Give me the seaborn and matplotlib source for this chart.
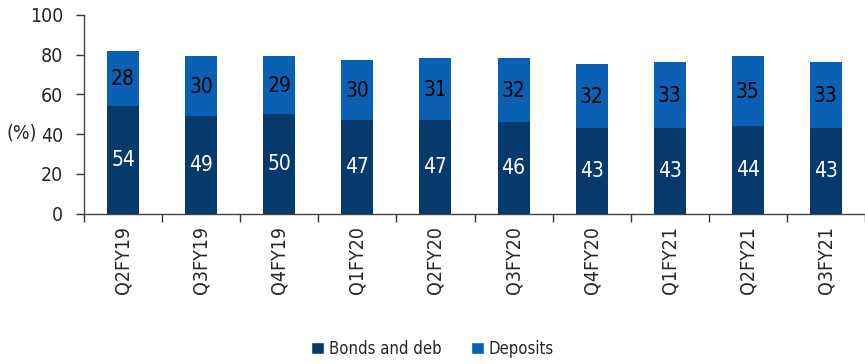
import numpy as np
import pandas as pd
import matplotlib
matplotlib.use("Agg")
import matplotlib.pyplot as plt
import seaborn as sns
from matplotlib.patches import Patch

quarters = ["Q2FY19", "Q3FY19", "Q4FY19", "Q1FY20", "Q2FY20",
            "Q3FY20", "Q4FY20", "Q1FY21", "Q2FY21", "Q3FY21"]
bonds = [54, 49, 50, 47, 47, 46, 43, 43, 44, 43]
deposits = [28, 30, 29, 30, 31, 32, 32, 33, 35, 33]
series_names = ["Bonds and deb", "Deposits"]

dark = "#063a6c"
light = "#0a60b2"

sns.set_theme(style="white")
plt.rcParams['font.family'] = ['DejaVu Sans']
plt.rcParams['font.stretch'] = 'condensed'

df = pd.DataFrame({"quarter": quarters, "bonds": bonds, "deposits": deposits})
df["total"] = df["bonds"] + df["deposits"]

fig = plt.figure(figsize=(8.65, 3.64), dpi=100)
ax = fig.add_axes([84/865, 1-213.7/364, 1-84/865, (213.7-14.7)/364])

sns.barplot(data=df, x="quarter", y="total", color=light, saturation=1,
            width=0.41, ax=ax, edgecolor="none")
sns.barplot(data=df, x="quarter", y="bonds", color=dark, saturation=1,
            width=0.41, ax=ax, edgecolor="none")

top_bars = ax.patches[:len(quarters)]
bot_bars = ax.patches[len(quarters):]
for b, v in zip(bot_bars, bonds):
    ax.text(b.get_x() + b.get_width()/2, v/2, str(v), ha="center", va="center",
            color="white", fontsize=15)
for b, v, base in zip(top_bars, deposits, bonds):
    ax.text(b.get_x() + b.get_width()/2, base + v/2 - 0.5, str(v), ha="center",
            va="center", color="black", fontsize=15)

ax.set_ylim(0, 100)
ax.set_yticks(np.arange(0, 101, 20))
ax.set_xlim(-0.5, 9.43)
ax.set_xticks(np.arange(-0.5, 9.6, 1))
ax.set_xticklabels([])
ax.set_xticks(np.arange(len(quarters)), minor=True)
ax.set_xticklabels(quarters, minor=True, rotation=90, fontsize=14)
ax.tick_params(axis="x", which="major", direction="out", length=6, width=1,
               color="#333333", bottom=True)
ax.tick_params(axis="x", which="minor", length=0, pad=9, bottom=True)
ax.tick_params(axis="y", direction="out", length=6, width=1, color="#333333",
               labelsize=14, pad=9, left=True)
ax.set_xlabel("")
ax.set_ylabel("")
for s in ["top", "right"]:
    ax.spines[s].set_visible(False)
for s in ["left", "bottom"]:
    ax.spines[s].set_color("#444444")
    ax.spines[s].set_linewidth(1)

fig.text(22/865, 1-133/364, "(%)", ha="center", va="center", fontsize=14)

handles = [Patch(facecolor=dark, label=series_names[0]),
           Patch(facecolor=light, label=series_names[1])]
fig.legend(handles=handles, loc="center", bbox_to_anchor=(0.5, 1-349/364), ncol=2,
           frameon=False, fontsize=12, handlelength=0.75, handleheight=0.75,
           handletextpad=0.3, columnspacing=1.8)

fig.savefig("out.png", dpi=100)
